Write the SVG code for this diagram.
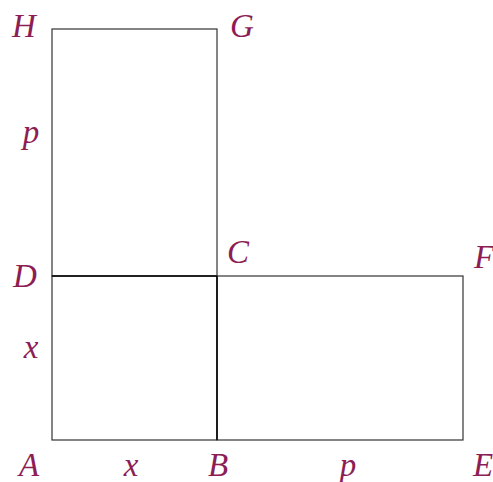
<svg xmlns="http://www.w3.org/2000/svg" width="493" height="482" viewBox="0 0 493 482">
<style>
.lbl{font-family:"Liberation Serif","DejaVu Serif",serif;font-style:italic;font-size:33px;fill:#8c1d55;text-anchor:middle}
.edge{fill:none;stroke:#333;stroke-width:1.2}
.mid{fill:none;stroke:#111;stroke-width:1.6}
</style>
<rect width="493" height="482" fill="#fff"/>
<g id="connectors">
<rect class="edge" x="52" y="29" width="165" height="247"/>
<rect class="edge" x="52" y="276" width="165" height="164"/>
<rect class="edge" x="217" y="276" width="246" height="164"/>
<line class="mid" x1="52" y1="276" x2="217" y2="276"/>
<line class="mid" x1="217" y1="276" x2="217" y2="440"/>
</g>
<g id="H"><text class="lbl" x="24" y="37">H</text></g>
<g id="G"><text class="lbl" x="242" y="37">G</text></g>
<g id="C"><text class="lbl" x="238" y="263">C</text></g>
<g id="F"><text class="lbl" x="484" y="268">F</text></g>
<g id="D"><text class="lbl" x="25" y="287">D</text></g>
<g id="A"><text class="lbl" x="29" y="476">A</text></g>
<g id="B"><text class="lbl" x="218" y="476">B</text></g>
<g id="E"><text class="lbl" x="483" y="476">E</text></g>
<g id="lp1"><text class="lbl" x="31" y="143">p</text></g>
<g id="lx1"><text class="lbl" x="31" y="358">x</text></g>
<g id="lx2"><text class="lbl" x="131" y="476">x</text></g>
<g id="lp2"><text class="lbl" x="348" y="476">p</text></g>
</svg>
